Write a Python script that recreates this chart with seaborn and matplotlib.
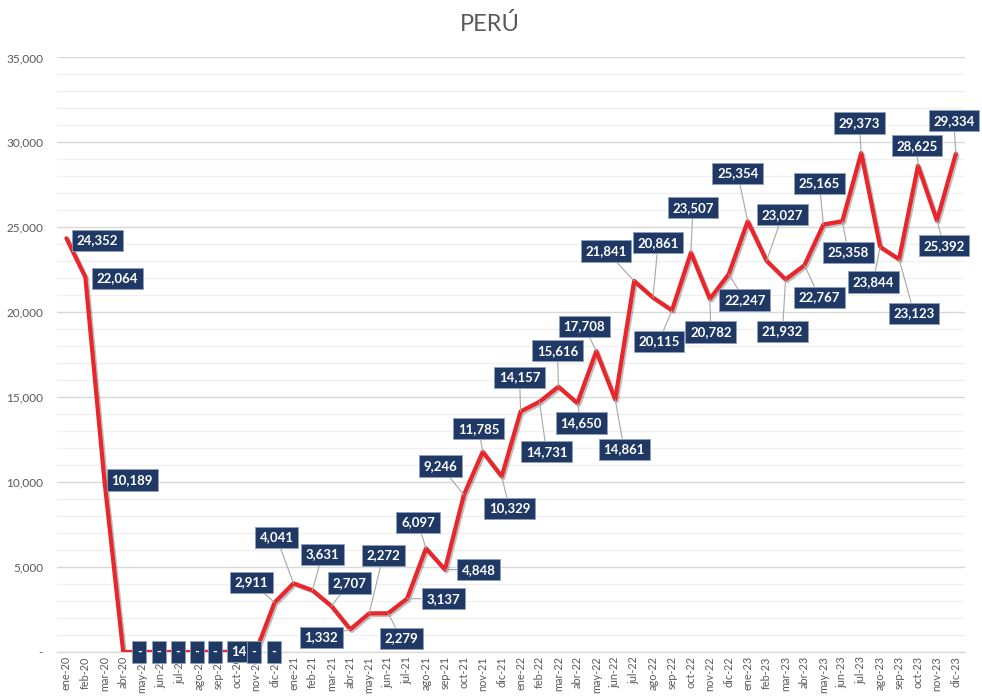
import numpy as np
import pandas as pd
import matplotlib
matplotlib.use('Agg')
import matplotlib.pyplot as plt
import matplotlib.patheffects as pe
from matplotlib.ticker import MultipleLocator, FuncFormatter
import seaborn as sns

# --- DATA ---
months = ['ene', 'feb', 'mar', 'abr', 'may', 'jun', 'jul', 'ago', 'sep', 'oct', 'nov', 'dic']
years = ['20', '21', '22', '23']
periods = [m + '-' + y for y in years for m in months]

values = [
    24352, 22064, 10189, 0, 0, 0, 0, 0, 14, 0, 0, 2911,            # 2020
    4041, 3631, 2707, 1332, 2272, 2279, 3137, 6097, 4848, 9246, 11785, 10329,  # 2021
    14157, 14731, 15616, 14650, 17708, 14861, 21841, 20861, 20115, 23507, 20782, 22247,  # 2022
    25354, 23027, 21932, 22767, 25165, 25358, 29373, 23844, 23123, 28625, 25392, 29334,  # 2023
]

# label offsets in pixels (dx, dy up)
label_offsets = [
    (31, -2), (32, -1), (28, -1), (16, 0), (17, 0), (17, 0), (17, 0), (16, 0),
    (21, 0), (17, 0), (18, 0), (-23, 20),
    (-17, 46), (10, 36), (18, 23), (-29, -8), (14, 58), (13, -25), (36, 0), (-8, 26),
    (34, 0), (-23, 29), (-4, 23), (8, -32),
    (-1, 34), (7, -50), (-1, 36), (4, -20), (-12, 25), (9, -50), (-28, 30), (5, 55),
    (-13, -31), (2, 45), (1, -33), (16, -26),
    (-10, 48), (16, 46), (-3, -52), (15, -32), (-4, 41), (6, -31), (-2, 30), (-7, -35),
    (15, -54), (-1, 20), (7, -25), (-2, 33),
]
no_leader = 11  # first labels sit right next to their point

df = pd.DataFrame({'idx': np.arange(len(values)), 'periodo': periods, 'valor': values})

# --- STYLE ---
sns.set_style('white')
plt.rcParams['font.family'] = ['Lato', 'DejaVu Sans']

NAVY = '#1F3864'
RED = '#E8262B'
GRAY_TXT = '#595959'

fig = plt.figure(figsize=(9.82, 6.97), dpi=100)
ax = fig.add_axes([0.058, 0.0646, 0.925, 0.853])

sns.lineplot(data=df, x='idx', y='valor', ax=ax, color=RED, linewidth=3.0,
             path_effects=[pe.SimpleLineShadow(offset=(1.2, -1.2), alpha=0.25), pe.Normal()],
             zorder=3)

ax.set_xlim(-0.5, len(values) - 0.5)
ax.set_ylim(0, 35000)

# grid
ax.yaxis.set_major_locator(MultipleLocator(5000))
ax.yaxis.set_minor_locator(MultipleLocator(1000))
ax.grid(which='major', axis='y', color='#D9D9D9', linewidth=1.0, zorder=0)
ax.grid(which='minor', axis='y', color='#F0F0F0', linewidth=1.0, zorder=0)
ax.grid(axis='x', visible=False)
ax.yaxis.set_major_formatter(FuncFormatter(lambda v, p: '-' if v == 0 else f'{int(v):,}'))

ax.set_xticks(df['idx'])
ax.set_xticklabels(df['periodo'], rotation=90)
ax.tick_params(axis='x', labelsize=7.8, colors=GRAY_TXT, length=0, pad=3)
ax.tick_params(axis='y', which='both', labelsize=8.5, colors=GRAY_TXT, length=0, pad=10)
ax.set_xlabel('')
ax.set_ylabel('')
for s in ['top', 'right', 'left']:
    ax.spines[s].set_visible(False)
ax.spines['bottom'].set_color('#D9D9D9')
ax.spines['bottom'].set_linewidth(1.0)

# data labels
for i, (v, (dx, dy)) in enumerate(zip(values, label_offsets)):
    txt = '-' if v == 0 else f'{v:,}'
    arrow = None
    if i >= no_leader:
        arrow = dict(arrowstyle='-', color='#A6A6A6', linewidth=0.8, shrinkA=0, shrinkB=0)
    ax.annotate(txt, xy=(i, v), xytext=(dx, dy), textcoords='offset pixels',
                ha='center', va='center', fontsize=9.5, fontweight='bold', color='white',
                bbox=dict(boxstyle='square,pad=0.35', facecolor=NAVY, edgecolor='#8EA0C0',
                          linewidth=0.6),
                arrowprops=arrow, zorder=5, annotation_clip=False)

fig.text(0.499, 0.966, 'PERÚ', ha='center', va='center', fontsize=17, color=GRAY_TXT)

fig.savefig('out.png', dpi=100, facecolor='white')
